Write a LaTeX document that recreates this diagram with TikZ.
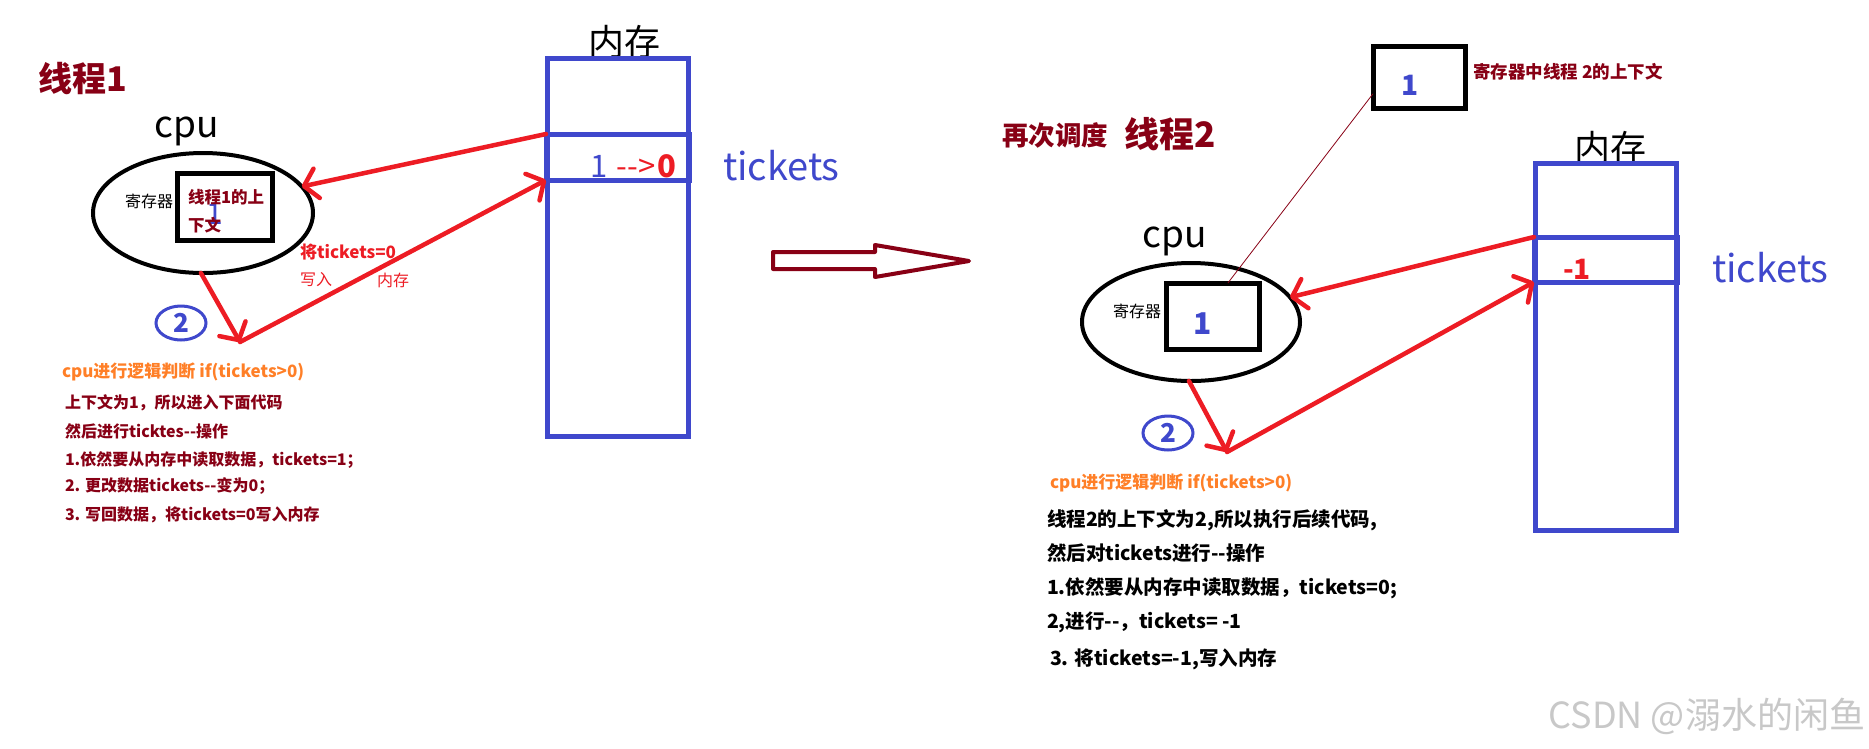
\documentclass[tikz,border=0pt]{standalone}
\usepackage{fontspec}
\setmainfont{Noto Sans CJK SC}
\usetikzlibrary{arrows.meta,shapes.geometric}
\definecolor{pDark}{RGB}{136,0,21}
\definecolor{pRed}{RGB}{237,28,36}
\definecolor{pBlue}{RGB}{63,72,204}
\definecolor{pOrange}{RGB}{255,127,39}
\definecolor{wmGray}{RGB}{200,200,200}
\newcommand\fsz[1]{\fontsize{#1}{#1}\selectfont}
\begin{document}
\begin{tikzpicture}[x=1pt,y=-1pt,
  txt/.style={inner sep=0pt, outer sep=0pt},
  redarrow/.style={draw=pRed, line width=4.5pt, line cap=round, -{Straight Barb[length=13pt,width=30pt,round]}},
  memrect/.style={draw=pBlue, line width=5pt, inner sep=0pt, outer sep=0pt},
  regbox/.style={draw=black, line width=5pt, inner sep=0pt, outer sep=0pt},
  cpuell/.style={ellipse, draw=black, line width=4pt, inner sep=0pt, outer sep=0pt},
  circnum/.style={ellipse, draw=pBlue, line width=3pt, inner sep=0pt, minimum width=50pt, minimum height=34pt, text=pBlue, font=\fsz{26}\bfseries},
  blockL/.style={txt, anchor=west, text=pDark, font=\fsz{16}\bfseries},
  blockR/.style={txt, anchor=west, text=black, font=\fsz{19.5}\bfseries},
  orangeline/.style={txt, anchor=west, text=pOrange, font=\fsz{17}\bfseries},
  bigtitle/.style={txt, anchor=west, text=pDark, font=\fsz{34}\bfseries},
  cpulabel/.style={txt, anchor=base, font=\fsz{37}},
  memlabel/.style={txt, font=\fsz{36}},
  tkt/.style={txt, anchor=base west, text=pBlue, font=\fsz{38}},
  reglabel/.style={txt, font=\fsz{16}},
]
\useasboundingbox[fill=white] (0,0) rectangle (1869,748);

% ================= LEFT: thread 1 =================
\node[bigtitle] (t1) at (38,79) {线程1};
\node[cpulabel] (cpuL) at (187,137) {cpu};
\node[cpuell, minimum width=220pt, minimum height=120pt] (cpu1) at (203,213) {};
\node[regbox, minimum width=95pt, minimum height=67pt] (reg1) at (224.5,206.5) {};
\node[reglabel] (rl1) at (149,201) {寄存器};
\node[txt, text=pBlue, font=\fsz{30}] (one1) at (215,214) {1};
\node[txt, anchor=west, text=pDark, font=\fsz{16.5}\bfseries] (ctx1a) at (188,197) {线程1的上};
\node[txt, anchor=west, text=pDark, font=\fsz{16.5}\bfseries] (ctx1b) at (188,225) {下文};

\node[memlabel] (ml1) at (624,42) {内存};
\node[memrect, minimum width=141pt, minimum height=378pt] (mem1) at (617.5,247) {};
\node[memrect, minimum width=143pt, minimum height=46pt] (cell1) at (617.5,157) {};
\node[txt, anchor=base, text=pBlue, font=\fsz{31}] (v1a) at (599,177) {1};
\node[txt, anchor=base, text=pRed, font=\fsz{31}] (v1b) at (636,177) {-{}-{}>};
\node[txt, anchor=base, text=pRed, font=\fsz{31}\bfseries] (v1c) at (667,177) {0};
\node[tkt] (tk1) at (723,180) {tickets};

\node[circnum] (c2L) at (181,323) {2};
\coordinate (k1) at (240,342);
\draw[redarrow] (cell1.north west) -- (cpu1.15);
\draw[redarrow] (cpu1.268) -- (k1);
\draw[redarrow] (k1) -- (cell1.south west);

\node[txt, anchor=west, text=pRed, font=\fsz{17}\bfseries] (w1) at (300,252) {将tickets=0};
\node[txt, anchor=west, text=pRed, font=\fsz{16}] (w2) at (300,280) {写入};
\node[txt, anchor=west, text=pRed, font=\fsz{16}] (w3) at (377,280) {内存};

\node[orangeline] (oL) at (62,372) {cpu进行逻辑判断 if(tickets>0)};
\node[blockL] (L1) at (65,403) {上下文为1，所以进入下面代码};
\node[blockL] (L2) at (65,431) {然后进行ticktes-{}-操作};
\node[blockL] (L3) at (65,460) {1.依然要从内存中读取数据，tickets=1；};
\node[blockL] (L4) at (65,486) {2. 更改数据tickets-{}-变为0；};
\node[blockL] (L5) at (65,515) {3. 写回数据，将tickets=0写入内存};

% ================= middle arrow =================
\draw[draw=pDark, line width=4pt, line join=round]
  (773,252) -- (875,252) -- (875,245) -- (969,261) -- (875,277) -- (875,269) -- (773,269) -- cycle;

% ================= RIGHT: thread 2 =================
\node[txt, anchor=west, text=pDark, font=\fsz{26.5}\bfseries] (t2a) at (1002,135) {再次调度};
\node[bigtitle, font=\fsz{35}\bfseries] (t2b) at (1124,134) {线程2};

\node[regbox, minimum width=92pt, minimum height=62pt] (topbox) at (1419,77) {};
\node[txt, text=pBlue, font=\fsz{28}\bfseries] (one3) at (1410,85) {1};
\node[txt, anchor=west, text=pDark, font=\fsz{17.5}\bfseries] (ctx2) at (1473,72) {寄存器中线程 2的上下文};

\node[cpulabel] (cpuR) at (1175,247) {cpu};
\node[cpuell, minimum width=218pt, minimum height=118pt] (cpu2) at (1191,322) {};
\node[regbox, minimum width=93pt, minimum height=66pt] (reg2) at (1212.5,316) {};
\node[reglabel] (rl2) at (1137,311) {寄存器};
\node[txt, text=pBlue, font=\fsz{30}\bfseries] (one2) at (1203,324) {1};
\draw[draw=pDark, line width=0.8pt] (topbox.200) -- (reg2.65);

\node[memlabel] (ml2) at (1610,148) {内存};
\node[memrect, minimum width=141pt, minimum height=367pt] (mem2) at (1605.5,346.5) {};
\node[memrect, minimum width=143pt, minimum height=45pt] (cell2) at (1605.5,259.5) {};
\node[txt, anchor=base, text=pRed, font=\fsz{28}\bfseries] (v2) at (1577,279) {-1};
\node[tkt] (tk2) at (1712,282) {tickets};

\node[circnum] (c2R) at (1168,433) {2};
\coordinate (k2) at (1227,452);
\draw[redarrow] (cell2.north west) -- (cpu2.14);
\draw[redarrow] (cpu2.268) -- (k2);
\draw[redarrow] (k2) -- (cell2.south west);

\node[orangeline] (oR) at (1050,483) {cpu进行逻辑判断 if(tickets>0)};
\node[blockR] (R1) at (1047,520) {线程2的上下文为2,所以执行后续代码,};
\node[blockR] (R2) at (1047,553) {然后对tickets进行-{}-操作};
\node[blockR] (R3) at (1047,588) {1.依然要从内存中读取数据，tickets=0;};
\node[blockR] (R4) at (1047,622) {2,进行-{}-，tickets= -1};
\node[blockR] (R5) at (1050,659) {3. 将tickets=-1,写入内存};

\node[txt, anchor=east, text=wmGray, font=\fsz{36}] (wm) at (1865,716) {CSDN @溺水的闲鱼};
\end{tikzpicture}
\end{document}
